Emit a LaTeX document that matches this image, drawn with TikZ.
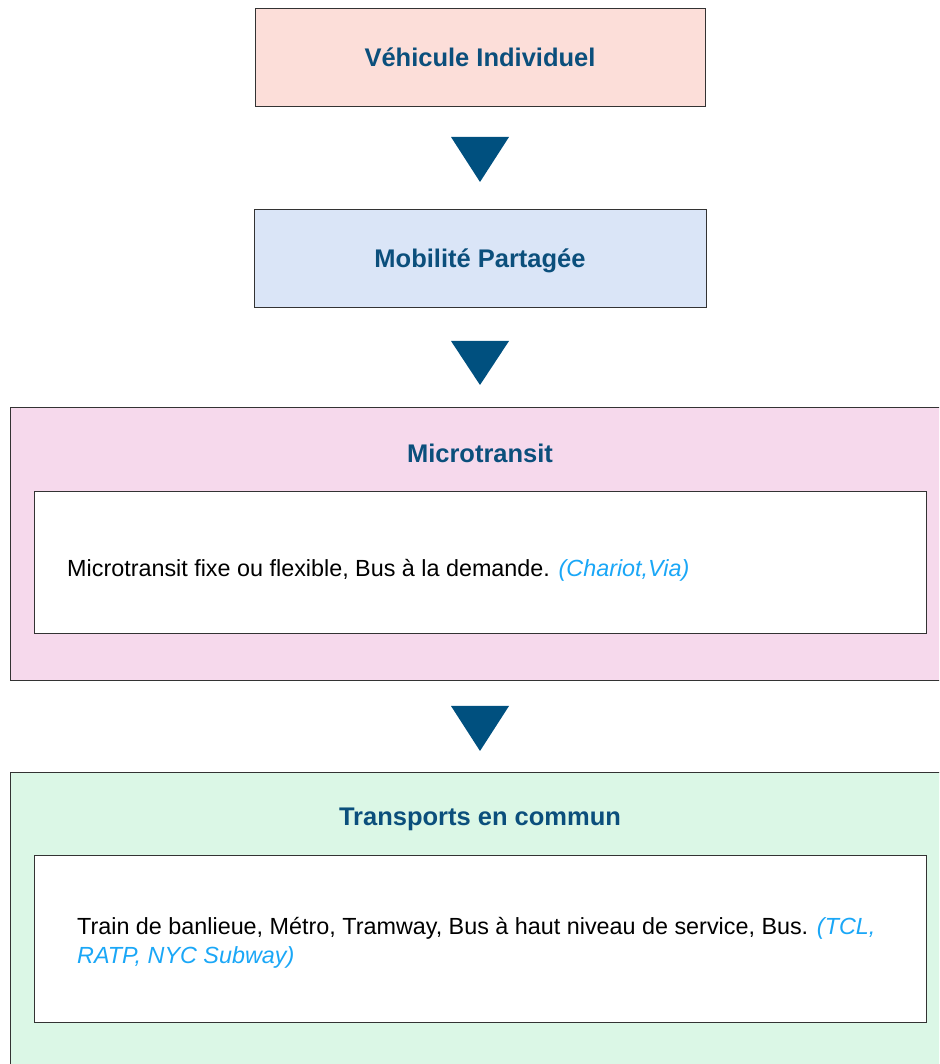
\documentclass[tikz,border=0pt]{standalone}
\usepackage{fontspec}
\setmainfont{Liberation Sans}
\definecolor{titleblue}{HTML}{0B4F7C}
\definecolor{triblue}{HTML}{00507F}
\definecolor{linkblue}{HTML}{1AA7F7}
\definecolor{fillA}{HTML}{FCDED9}
\definecolor{fillB}{HTML}{DAE5F7}
\definecolor{fillC}{HTML}{F6D9EC}
\definecolor{fillD}{HTML}{DBF7E6}
\definecolor{edge}{HTML}{333333}
\tikzset{
  stagebox/.style={draw=edge, line width=1pt, inner sep=0pt, text=titleblue,
    text height=18pt, text depth=0pt,
    font=\fontsize{25.5}{30}\selectfont\bfseries},
  innerbox/.style={draw=edge, fill=white, line width=1pt, inner sep=0pt},
  titletext/.style={text=titleblue, font=\fontsize{25.5}{30}\selectfont\bfseries, inner sep=0pt, anchor=base},
  bodytext/.style={font=\fontsize{23.35}{29}\selectfont, align=left, inner sep=0pt, anchor=west},
  flowtri/.style={fill=triblue, draw=none}
}
\newcommand{\ex}[1]{\textcolor{linkblue}{\itshape #1}}
\begin{document}
\begin{tikzpicture}[x=1pt,y=1pt]
\useasboundingbox (0,0) rectangle (939,1064);
\clip (0,0) rectangle (939,1064);

% Stage 1
\node[stagebox, fill=fillA, minimum width=450, minimum height=98] (veh) at (480,1006) {Véhicule Individuel};
% Stage 2
\node[stagebox, fill=fillB, minimum width=452, minimum height=98] (mob) at (480,805) {Mobilité Partagée};

% Stage 3
\node[draw=edge, line width=1pt, fill=fillC, minimum width=940, minimum height=273, inner sep=0pt] (micro) at (480,519.5) {};
\node[titletext] (microT) at (480,601) {Microtransit};
\node[innerbox, minimum width=892, minimum height=142] (microIn) at (480,501) {};
\node[bodytext] (microTxt) at (67,494) {Microtransit fixe ou flexible, Bus à la demande. \ex{(Chariot,Via)}};

% Stage 4
\node[draw=edge, line width=1pt, fill=fillD, minimum width=940, minimum height=307, inner sep=0pt] (tc) at (480,137.5) {};
\node[titletext] (tcT) at (480,238) {Transports en commun};
\node[innerbox, minimum width=892, minimum height=167] (tcIn) at (480,124.5) {};
\node[bodytext] (tcTxt) at (77,121.5) {Train de banlieue, Métro, Tramway, Bus à haut niveau de service, Bus. \ex{(TCL,}\\\ex{RATP, NYC Subway)}};

% Arrows (triangles)
\coordinate (t1) at (480,882);
\coordinate (t2) at (480,679);
\coordinate (t3) at (480,313);
\fill[flowtri] (t1) -- ++(-29,45) -- ++(58,0) -- cycle;
\fill[flowtri] (t2) -- ++(-29,44) -- ++(58,0) -- cycle;
\fill[flowtri] (t3) -- ++(-29,45) -- ++(58,0) -- cycle;
\end{tikzpicture}
\end{document}
